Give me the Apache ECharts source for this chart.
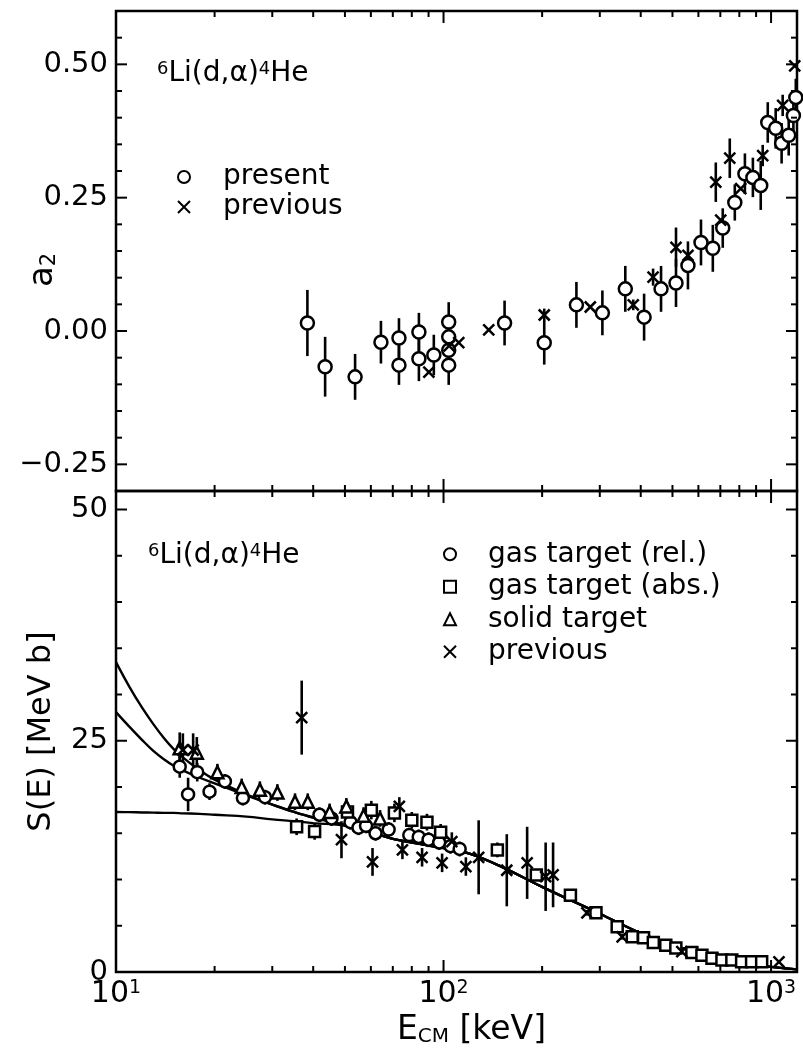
<!DOCTYPE html>
<html><head><meta charset="utf-8">
<script src="https://cdn.jsdelivr.net/npm/echarts@6/dist/echarts.min.js"></script>
<style>html,body{margin:0;padding:0;background:#fff}#c{width:803px;height:1049px}</style>
</head><body><div id="c"></div>
<script>
// ---------------- tick values ----------------
const xMajorTicks = [10, 100, 1000];
const xMinorTicks = [20, 30, 40, 50, 60, 70, 80, 90, 200, 300, 400, 500, 600, 700, 800, 900];
const a2MajorTicks = [-0.25, 0, 0.25, 0.5];
const a2MinorTicks = [-0.2, -0.15, -0.1, -0.05, 0.05, 0.1, 0.15, 0.2, 0.3, 0.35, 0.4, 0.45, 0.55];
const sMajorTicks = [0, 25, 50];
const sMinorTicks = [5, 10, 15, 20, 30, 35, 40, 45];

// ---------------- top panel: a2 ----------------
const topPresentE = [38.4, 43.5, 53.7, 64.4, 73.1, 73.1, 84.1, 84.1, 93.4, 103.7, 103.7, 103.7, 103.7, 153.6, 203, 254.5, 305.5, 358.9, 409.6, 461.4, 512.6, 557.5, 611, 664, 712, 775, 832, 880, 930, 977, 1033, 1077, 1132, 1170, 1190];
const topPresentA2 = [0.015, -0.067, -0.086, -0.021, -0.013, -0.064, -0.002, -0.052, -0.045, 0.017, -0.011, -0.036, -0.064, 0.015, -0.022, 0.049, 0.034, 0.079, 0.026, 0.079, 0.090, 0.123, 0.166, 0.155, 0.193, 0.241, 0.295, 0.288, 0.273, 0.391, 0.380, 0.352, 0.367, 0.404, 0.438];
const topPresentErr = [0.062, 0.056, 0.043, 0.040, 0.037, 0.037, 0.036, 0.042, 0.038, 0.037, 0.030, 0.030, 0.037, 0.042, 0.041, 0.043, 0.042, 0.043, 0.044, 0.043, 0.045, 0.045, 0.043, 0.044, 0.037, 0.034, 0.038, 0.037, 0.046, 0.038, 0.038, 0.038, 0.038, 0.037, 0.035];

const topPrevE = [90.2, 104, 111.3, 137.4, 203, 280.6, 379.5, 436.3, 512.6, 557.5, 678, 702, 748, 808, 943, 1085, 1181];
const topPrevA2 = [-0.077, -0.028, -0.022, 0.002, 0.030, 0.045, 0.049, 0.101, 0.157, 0.142, 0.279, 0.208, 0.324, 0.267, 0.329, 0.423, 0.497];
const topPrevErr = [0, 0.01, 0, 0, 0.012, 0, 0.01, 0.016, 0.037, 0, 0.037, 0, 0.037, 0, 0.02, 0.02, 0];

// ---------------- bottom panel: S(E) ----------------
const gasRelE = [15.65, 16.6, 17.7, 19.3, 21.5, 24.4, 28.5, 41.8, 45.5, 52, 55, 58, 62, 68, 78.6, 84, 90, 97, 105, 112];
const gasRelS = [22.2, 19.2, 21.6, 19.5, 20.6, 18.8, 18.9, 17.0, 16.6, 16.2, 15.6, 15.8, 15.0, 15.4, 14.8, 14.6, 14.3, 14.0, 13.6, 13.3];
const gasRelErr = [1.2, 1.8, 1.0, 0.9, 0.8, 0.8, 0.8, 0.8, 0.8, 0.8, 0.8, 0.8, 0.8, 0.8, 0.8, 0.8, 0.8, 0.8, 0.8, 0.8];

const gasAbsE = [35.6, 40.4, 50.9, 60.2, 70.8, 80, 89, 98, 146, 192, 244, 292, 339, 377, 408, 437, 477, 512, 573, 615, 660, 708, 759, 813, 872, 936];
const gasAbsS = [15.7, 15.2, 17.3, 17.5, 17.2, 16.4, 16.2, 15.1, 13.2, 10.5, 8.3, 6.4, 4.9, 3.8, 3.7, 3.2, 2.9, 2.6, 2.1, 1.8, 1.5, 1.3, 1.3, 1.1, 1.1, 1.1];
const gasAbsErr = [0.9, 0.9, 1.0, 1.0, 1.0, 0.9, 0.9, 0.9, 0.8, 0.6, 0.5, 0.4, 0.3, 0.3, 0.3, 0.2, 0.2, 0.2, 0.15, 0.15, 0.1, 0.1, 0.1, 0.1, 0.1, 0.1];

const solidE = [15.65, 17.65, 20.4, 24.2, 27.5, 31.1, 35.2, 38.5, 44.9, 50.5, 57, 64];
const solidS = [24.2, 23.7, 21.6, 20.0, 19.7, 19.4, 18.4, 18.4, 17.3, 17.9, 16.9, 16.6];
const solidErr = [1.7, 1.7, 0.9, 0.9, 0.9, 0.9, 0.9, 0.9, 0.9, 0.9, 0.9, 0.9];

const prevE = [16.0, 17.2, 36.9, 48.8, 60.7, 73.3, 74.9, 86, 99, 106, 117, 128, 156, 180, 205, 216, 274, 351, 534, 1057];
const prevS = [24.0, 24.0, 27.5, 14.3, 11.9, 17.9, 13.2, 12.4, 11.8, 14.1, 11.4, 12.4, 11.0, 11.8, 10.3, 10.5, 6.4, 3.8, 2.2, 1.1];
const prevErr = [1.8, 1.8, 4.0, 2.0, 1.5, 1.0, 1.0, 1.0, 1.0, 1.0, 1.0, 4.0, 3.9, 3.9, 3.7, 3.5, 0.3, 0.3, 0.2, 0.1];

const curveE = [10, 11, 12, 13, 14, 15, 16, 18, 20, 25, 30, 35, 40, 50, 60, 70, 80, 100, 120, 150, 200, 250, 300, 400, 500, 600, 700, 800, 900, 1000, 1100, 1200];
const curveA = [33.5, 30.8, 28.6, 26.8, 25.3, 24.1, 23.2, 21.8, 20.8, 19.2, 18.1, 17.3, 16.7, 15.9, 15.1, 14.4, 14.0, 13.4, 12.8, 11.4, 9.2, 7.6, 6.3, 4.2, 2.9, 2.1, 1.6, 1.15, 0.8, 0.55, 0.4, 0.28];
const curveB = [28.1, 26.5, 25.1, 23.9, 23.0, 22.3, 21.8, 21.0, 20.4, 19.1, 18.1, 17.3, 16.7, 15.9, 15.1, 14.4, 14.0, 13.4, 12.8, 11.4, 9.2, 7.6, 6.3, 4.2, 2.9, 2.1, 1.6, 1.15, 0.8, 0.55, 0.4, 0.28];
const curveC = [17.3, 17.28, 17.25, 17.23, 17.2, 17.2, 17.15, 17.1, 17.0, 16.8, 16.5, 16.3, 16.1, 15.8, 15.1, 14.4, 14.0, 13.4, 12.8, 11.4, 9.2, 7.6, 6.3, 4.2, 2.9, 2.1, 1.6, 1.15, 0.8, 0.55, 0.4, 0.28];

// ---------------- helpers ----------------
const FONT = 'DejaVu Sans';
const BLACK = '#000';
const pts = (xs, ys) => xs.map((x, i) => [x, ys[i]]);
const errs = (xs, ys, es) => xs.map((x, i) => [x, ys[i] - es[i], ys[i] + es[i]]).filter((d, i) => es[i] > 0);
const X_SYMBOL = 'path://M0,0L10,10M10,0L0,10';

function errRender(params, api) {
  const p1 = api.coord([api.value(0), api.value(1)]);
  const p2 = api.coord([api.value(0), api.value(2)]);
  return { type: 'line', shape: { x1: p1[0], y1: p1[1], x2: p2[0], y2: p2[1] },
           style: { stroke: BLACK, lineWidth: 2.6 } };
}
function xTickRender(params, api) {
  const cs = params.coordSys;
  const px = api.coord([api.value(0), api.value(1)])[0];
  const len = api.value(2) ? 12 : 6;
  const st = { stroke: BLACK, lineWidth: 2 };
  return { type: 'group', children: [
    { type: 'line', shape: { x1: px, y1: cs.y + cs.height, x2: px, y2: cs.y + cs.height - len }, style: st },
    { type: 'line', shape: { x1: px, y1: cs.y, x2: px, y2: cs.y + len }, style: st }
  ] };
}
function yTickRender(params, api) {
  const cs = params.coordSys;
  const py = api.coord([api.value(0), api.value(1)])[1];
  const len = api.value(2) ? 11 : 6;
  const st = { stroke: BLACK, lineWidth: 2 };
  return { type: 'group', children: [
    { type: 'line', shape: { x1: cs.x, y1: py, x2: cs.x + len, y2: py }, style: st },
    { type: 'line', shape: { x1: cs.x + cs.width, y1: py, x2: cs.x + cs.width - len, y2: py }, style: st }
  ] };
}
const tickSeries = (gi, yRef, yMaj, yMin) => [
  { type: 'custom', xAxisIndex: gi, yAxisIndex: gi, clip: false, silent: true, z: 5,
    renderItem: xTickRender, encode: { x: 0, y: 1 },
    data: xMajorTicks.map(v => [v, yRef, 1]).concat(xMinorTicks.map(v => [v, yRef, 0])) },
  { type: 'custom', xAxisIndex: gi, yAxisIndex: gi, clip: false, silent: true, z: 5,
    renderItem: yTickRender, encode: { x: 0, y: 1 },
    data: yMaj.map(v => [10, v, 1]).concat(yMin.map(v => [10, v, 0])) }
];
const errSeries = (gi, data) => ({ type: 'custom', xAxisIndex: gi, yAxisIndex: gi, clip: false, silent: true, z: 2,
  renderItem: errRender, encode: { x: 0, y: [1, 2] }, data: data });
const openStyle = { color: '#fff', borderColor: BLACK, borderWidth: 2.5, opacity: 1 };
const crossStyle = { color: 'rgba(0,0,0,0)', borderColor: BLACK, borderWidth: 2.5, opacity: 1 };

const isMult = (v, s) => Math.abs(v / s - Math.round(v / s)) < 1e-6;

const chart = echarts.init(document.getElementById('c'), null, { renderer: 'canvas' });
chart.setOption({
  animation: false,
  backgroundColor: '#fff',
  textStyle: { fontFamily: FONT, color: BLACK },
  grid: [
    { left: 116, right: 6, top: 11, height: 480, show: true, borderColor: BLACK, borderWidth: 2.5, backgroundColor: 'transparent', containLabel: false, outerBoundsMode: 'none' },
    { left: 116, right: 6, top: 491, height: 481, show: true, borderColor: BLACK, borderWidth: 2.5, backgroundColor: 'transparent', containLabel: false, outerBoundsMode: 'none' }
  ],
  xAxis: [
    { type: 'log', logBase: 10, gridIndex: 0, min: 10, max: 1200,
      axisLine: { show: false }, axisTick: { show: false }, splitLine: { show: false }, axisLabel: { show: false } },
    { type: 'log', logBase: 10, gridIndex: 1, min: 10, max: 1200,
      axisLine: { show: false }, axisTick: { show: false }, splitLine: { show: false },
      axisLabel: { margin: 7, color: BLACK, showMaxLabel: false,
        formatter: function (v) {
          const l = Math.log10(v), n = Math.round(l);
          if (Math.abs(l - n) > 1e-6) return '';
          return '{b|10}{p|' + n + '}';
        },
        rich: { b: { fontSize: 30, fontFamily: FONT, color: BLACK },
                p: { fontSize: 19, fontFamily: FONT, color: BLACK, verticalAlign: 'top' } } },
      name: '{e|E}{s|CM}{e| [keV]}', nameLocation: 'middle', nameGap: 42, nameMoveOverlap: false,
      nameTextStyle: { padding: [0, 0, 0, 30],
        rich: { e: { fontSize: 33, fontFamily: FONT, color: BLACK },
                s: { fontSize: 20, fontFamily: FONT, color: BLACK, verticalAlign: 'bottom' } } } }
  ],
  yAxis: [
    { type: 'value', gridIndex: 0, min: -0.3, max: 0.6, interval: 0.05,
      axisLine: { show: false }, axisTick: { show: false }, splitLine: { show: false },
      axisLabel: { margin: 8, fontSize: 29, fontFamily: FONT, color: BLACK, showMaxLabel: false, showMinLabel: false,
        formatter: v => isMult(v, 0.25) ? (v < 0 ? '\u2212' : '') + Math.abs(v).toFixed(2) : '' },
      name: '{a|a}{s|2}', nameLocation: 'middle', nameRotate: 90, nameGap: 56, nameMoveOverlap: false,
      nameTextStyle: { padding: [0, 38, 0, 0],
        rich: { a: { fontSize: 34, fontFamily: FONT, color: BLACK },
                s: { fontSize: 21, fontFamily: FONT, color: BLACK, verticalAlign: 'bottom' } } } },
    { type: 'value', gridIndex: 1, min: 0, max: 52, interval: 25,
      axisLine: { show: false }, axisTick: { show: false }, splitLine: { show: false },
      axisLabel: { margin: 8, fontSize: 29, fontFamily: FONT, color: BLACK, showMaxLabel: false,
        formatter: v => isMult(v, 25) ? String(Math.round(v)) : '' },
      name: 'S(E) [MeV b]', nameLocation: 'middle', nameRotate: 90, nameGap: 58, nameMoveOverlap: false,
      nameTextStyle: { fontSize: 32, fontFamily: FONT, color: BLACK } }
  ],
  legend: [
    { orient: 'vertical', left: 172, top: 157, itemWidth: 12, itemHeight: 12, itemGap: 0, selectedMode: false,
      data: ['present', 'previous'],
      textStyle: { fontSize: 28, fontFamily: FONT, color: BLACK, lineHeight: 30, padding: [0, 0, 0, 28] } },
    { orient: 'vertical', left: 438, top: 533, itemWidth: 12, itemHeight: 12, itemGap: 0, selectedMode: false,
      data: ['gas target (rel.)', 'gas target (abs.)', 'solid target', 'previous'],
      textStyle: { fontSize: 28, fontFamily: FONT, color: BLACK, lineHeight: 32.5, padding: [0, 0, 0, 27] } }
  ],
  graphic: [
    { type: 'text', x: 157, y: 74, z: 10,
      style: { text: '{s|6}{m|Li(d,\u03b1)}{s|4}{m|He}', verticalAlign: 'middle', fill: BLACK,
        rich: { s: { fontSize: 18, fontFamily: FONT, fill: BLACK, verticalAlign: 'top' },
                m: { fontSize: 28, fontFamily: FONT, fill: BLACK } } } },
    { type: 'text', x: 148, y: 556, z: 10,
      style: { text: '{s|6}{m|Li(d,\u03b1)}{s|4}{m|He}', verticalAlign: 'middle', fill: BLACK,
        rich: { s: { fontSize: 18, fontFamily: FONT, fill: BLACK, verticalAlign: 'top' },
                m: { fontSize: 28, fontFamily: FONT, fill: BLACK } } } }
  ],
  series: [
    ...tickSeries(0, 0, a2MajorTicks, a2MinorTicks),
    ...tickSeries(1, 10, sMajorTicks, sMinorTicks),
    // top panel
    errSeries(0, errs(topPresentE, topPresentA2, topPresentErr)),
    errSeries(0, errs(topPrevE, topPrevA2, topPrevErr)),
    { name: 'present', type: 'scatter', xAxisIndex: 0, yAxisIndex: 0, symbol: 'circle', symbolSize: 13, z: 4,
      itemStyle: openStyle, data: pts(topPresentE, topPresentA2) },
    { name: 'previous', type: 'scatter', xAxisIndex: 0, yAxisIndex: 0, symbol: X_SYMBOL, symbolSize: 11, z: 4,
      itemStyle: crossStyle, data: pts(topPrevE, topPrevA2) },
    // bottom panel curves
    { type: 'line', xAxisIndex: 1, yAxisIndex: 1, showSymbol: false, smooth: 0.4, z: 3, silent: true,
      lineStyle: { color: BLACK, width: 2.4 }, data: pts(curveE, curveA) },
    { type: 'line', xAxisIndex: 1, yAxisIndex: 1, showSymbol: false, smooth: 0.4, z: 3, silent: true,
      lineStyle: { color: BLACK, width: 2.4 }, data: pts(curveE, curveB) },
    { type: 'line', xAxisIndex: 1, yAxisIndex: 1, showSymbol: false, smooth: 0.4, z: 3, silent: true,
      lineStyle: { color: BLACK, width: 2.4 }, data: pts(curveE, curveC) },
    // bottom panel error bars
    errSeries(1, errs(gasRelE, gasRelS, gasRelErr)),
    errSeries(1, errs(gasAbsE, gasAbsS, gasAbsErr)),
    errSeries(1, errs(solidE, solidS, solidErr)),
    errSeries(1, errs(prevE, prevS, prevErr)),
    // bottom panel symbols
    { name: 'gas target (rel.)', type: 'scatter', xAxisIndex: 1, yAxisIndex: 1, symbol: 'circle', symbolSize: 12, z: 4,
      itemStyle: openStyle, data: pts(gasRelE, gasRelS) },
    { name: 'gas target (abs.)', type: 'scatter', xAxisIndex: 1, yAxisIndex: 1, symbol: 'rect', symbolSize: 11, z: 4,
      itemStyle: openStyle, data: pts(gasAbsE, gasAbsS) },
    { name: 'solid target', type: 'scatter', xAxisIndex: 1, yAxisIndex: 1, symbol: 'triangle', symbolSize: 12, z: 4,
      itemStyle: openStyle, data: pts(solidE, solidS) },
    { name: 'previous', type: 'scatter', xAxisIndex: 1, yAxisIndex: 1, symbol: X_SYMBOL, symbolSize: 11, z: 4,
      itemStyle: crossStyle, data: pts(prevE, prevS) }
  ]
});
</script></body></html>
